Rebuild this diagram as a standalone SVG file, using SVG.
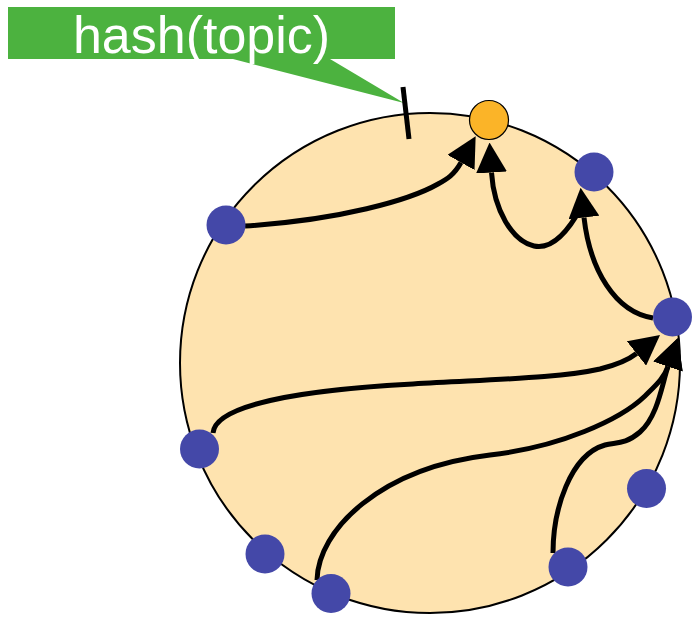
<svg xmlns="http://www.w3.org/2000/svg" width="692" height="617" viewBox="0 0 692 617">
<style>
.peer{fill:#4448A8;}
.target{fill:#FBB428;stroke:#000;stroke-width:1.2;}
.edge{fill:none;stroke:#000;stroke-width:5;marker-end:url(#arr);}
.label{font-family:"Liberation Sans",Arial,sans-serif;font-size:52px;fill:#fff;text-anchor:middle;}
</style>
<defs>
<marker id="arr" viewBox="0 0 30 31" refX="0" refY="15.5" markerWidth="30" markerHeight="31" markerUnits="userSpaceOnUse" orient="auto">
<path d="M0,0 L30,15.5 L0,31 Z" fill="#000"/>
</marker>
</defs>
<g id="ring">
<circle cx="430" cy="363" r="250" fill="#FEE3AF" stroke="#000" stroke-width="2"/>
</g>
<g id="callout">
<path d="M8,7 H395 V59 H330 L404,103 L233,59 H8 Z" fill="#4CB23F"/>
<text class="label" x="201.5" y="53">hash(topic)</text>
<line x1="403" y1="87" x2="409" y2="139" stroke="#000" stroke-width="5"/>
</g>
<g id="connectors">
<path class="edge" d="M245,226 C340,220 410,200 438,184 C447,179 454,175 461,162.5"/>
<path class="edge" d="M582,206 C568,232 552,250 534,246 C512,241 494,210 491.5,172.5"/>
<path class="edge" d="M653,318 C615,312 590,270 584,217.5"/>
<path class="edge" d="M213,433 C215,405 300,390 413,384 C500,379 560,378 600,369 C616,365 627,361 636.5,353.5"/>
<path class="edge" d="M317,580 C318,530 380,468 490,455 C560,447 620,420 645,396 C656,385 664,378 668,366.5"/>
<path class="edge" d="M553,553 C553,510 570,455 605,445 C615,442 625,445 640,432 C658,416 662,384 668,366.5"/>
</g>
<g id="node-target"><circle class="target" cx="489" cy="120" r="19.5"/></g>
<g id="node-1"><circle class="peer" cx="226" cy="225" r="19.5"/></g>
<g id="node-2"><circle class="peer" cx="594" cy="172" r="19.5"/></g>
<g id="node-3"><circle class="peer" cx="672.5" cy="317" r="19.5"/></g>
<g id="node-4"><circle class="peer" cx="199.5" cy="449" r="19.5"/></g>
<g id="node-5"><circle class="peer" cx="265" cy="554" r="19.5"/></g>
<g id="node-6"><circle class="peer" cx="331" cy="593.5" r="19.5"/></g>
<g id="node-7"><circle class="peer" cx="568" cy="567" r="19.5"/></g>
<g id="node-8"><circle class="peer" cx="646.5" cy="488.5" r="19.5"/></g>
</svg>
